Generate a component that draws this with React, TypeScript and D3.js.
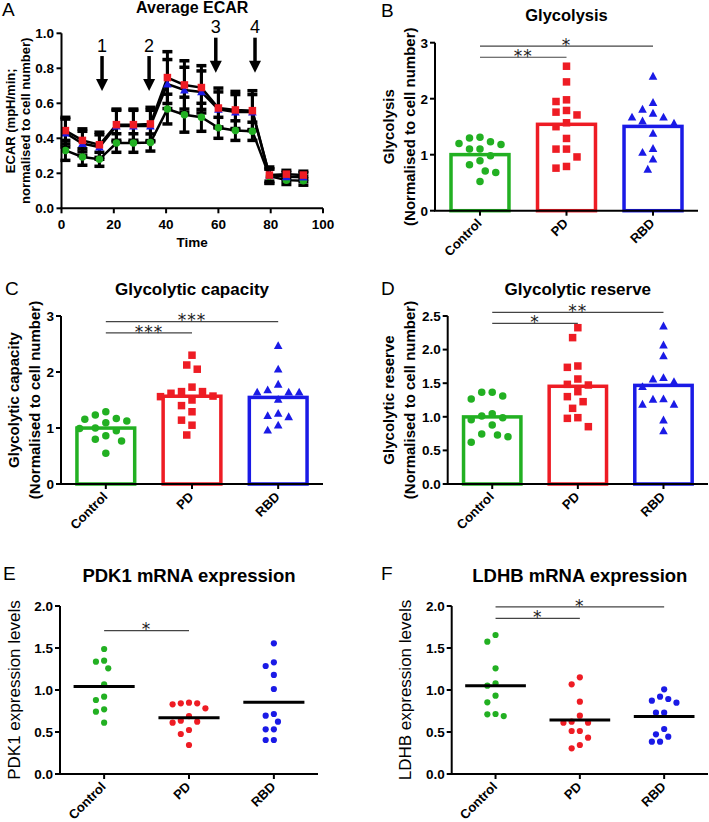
import React from 'react';
import * as d3 from 'd3';

const FONT = "'Liberation Sans', Arial, Helvetica, sans-serif";
const STAR_FONT = "'DejaVu Sans', sans-serif";
const GREEN = '#22b022';
const RED = '#ee1c24';
const BLUE = '#1a1ae6';

// ---------- Panel A data ----------
const timePoints = [1.5, 8, 14.5, 21, 27.5, 34, 40.5, 47, 53.5, 60, 66.5, 73, 79.5, 86, 92.5];
const pdMean = [0.444, 0.388, 0.363, 0.478, 0.478, 0.482, 0.747, 0.705, 0.69, 0.573, 0.562, 0.558, 0.19, 0.195, 0.19];
const pdSd = [0.076, 0.066, 0.072, 0.089, 0.089, 0.095, 0.148, 0.138, 0.125, 0.114, 0.106, 0.114, 0.046, 0.022, 0.022];
const rbdMean = [0.43, 0.37, 0.35, 0.47, 0.47, 0.47, 0.71, 0.676, 0.665, 0.565, 0.55, 0.55, 0.19, 0.18, 0.178];
const rbdSd = [0.08, 0.07, 0.07, 0.09, 0.09, 0.09, 0.14, 0.13, 0.12, 0.1, 0.1, 0.1, 0.035, 0.025, 0.025];
const ctrlMean = [0.331, 0.293, 0.28, 0.373, 0.373, 0.376, 0.567, 0.535, 0.52, 0.46, 0.444, 0.44, 0.183, 0.161, 0.157];
const ctrlSd = [0.057, 0.047, 0.04, 0.053, 0.053, 0.049, 0.085, 0.1, 0.08, 0.06, 0.056, 0.052, 0.041, 0.025, 0.025];
const injectionTimes = [15.5, 33.5, 59, 74];
const injectionTips = [0.67, 0.67, 0.775, 0.775];
const injectionLabels = ['1', '2', '3', '4'];
const timeTicks = [0, 20, 40, 60, 80, 100];
const ecarTicks = [0, 0.2, 0.4, 0.6, 0.8, 1.0];

// ---------- Group panels ----------
const groups = ['Control', 'PD', 'RBD'];

const glycolysisCtrl = [1.2, 1.3, 1.31, 1.23, 1.18, 1.1, 1.1, 0.98, 0.89, 0.82, 0.68, 0.71, 0.52];
const glycolysisPD = [2.58, 2.3, 1.98, 1.95, 1.79, 1.76, 1.71, 1.57, 1.5, 1.29, 1.1, 1.1, 0.96, 0.76, 0.79];
const glycolysisRBD = [2.4, 1.93, 1.81, 1.67, 1.67, 1.74, 1.56, 1.38, 1.11, 1.04, 0.92, 0.74, 1.6];

const capacityCtrl = [1.155, 1.23, 1.095, 1.17, 1.29, 1.125, 0.95, 0.99, 1.0, 0.86, 0.8, 0.77, 0.55];
const capacityPD = [2.3, 2.125, 2.05, 1.73, 1.56, 1.62, 1.65, 1.65, 1.5, 1.4, 1.29, 1.14, 1.05, 0.875, 1.57];
const capacityRBD = [2.47, 2.05, 1.78, 1.68, 1.64, 1.64, 1.64, 1.51, 1.22, 1.2, 1.26, 1.05, 0.96];

const reserveCtrl = [1.364, 1.31, 1.265, 1.364, 1.012, 1.047, 0.955, 0.987, 0.878, 0.729, 0.704, 0.744, 0.62];
const reservePD = [2.326, 2.178, 1.736, 1.756, 1.5625, 1.483, 1.473, 1.374, 1.3, 1.225, 1.126, 0.987, 0.977, 0.853];
const reserveRBD = [2.351, 2.068, 1.905, 1.582, 1.523, 1.5625, 1.448, 1.26, 1.185, 1.185, 1.265, 0.952, 0.789];

const pdk1Ctrl = [1.488, 1.349, 1.337, 1.258, 1.067, 0.921, 0.881, 0.77, 0.742, 0.611];
const pdk1PD = [0.841, 0.829, 0.782, 0.841, 0.849, 0.69, 0.635, 0.611, 0.623, 0.524, 0.476, 0.345];
const pdk1RBD = [1.556, 1.329, 1.286, 1.179, 1.012, 0.714, 0.694, 0.623, 0.532, 0.532, 0.405, 0.405];

const ldhbCtrl = [1.655, 1.575, 1.258, 1.079, 1.052, 0.933, 0.853, 0.714, 0.69, 0.71];
const ldhbPD = [1.151, 1.067, 0.861, 0.694, 0.623, 0.611, 0.611, 0.512, 0.512, 0.433, 0.345, 0.306];
const ldhbRBD = [1.008, 0.921, 0.873, 0.849, 0.893, 0.73, 0.73, 0.536, 0.472, 0.444, 0.385, 0.385];

const ticks0to3 = [0, 1, 2, 3];
const ticks0to25 = [0, 0.5, 1.0, 1.5, 2.0, 2.5];
const ticks0to2 = [0, 0.5, 1.0, 1.5, 2.0];

// brackets: [toGroupIndex, yValue, label]
const glycolysisBrackets: [number, number, string][] = [[1, 2.74, '**'], [2, 2.94, '*']];
const capacityBrackets: [number, number, string][] = [[1, 2.7, '***'], [2, 2.9, '***']];
const reserveBrackets: [number, number, string][] = [[1, 2.39, '*'], [2, 2.555, '**']];
const pdk1Brackets: [number, number, string][] = [[1, 1.706, '*']];
const ldhbBrackets: [number, number, string][] = [[1, 1.853, '*'], [2, 1.99, '*']];

const COLORS = [GREEN, RED, BLUE];
const SHAPES = ['circle', 'square', 'triangle'];

function Marker({ shape, x, y, s, color }: { shape: string; x: number; y: number; s: number; color: string }) {
  if (shape === 'square') return <rect x={x - s / 2} y={y - s / 2} width={s} height={s} fill={color} />;
  if (shape === 'triangle') {
    const h = s * 1.0;
    const w = s * 1.15;
    return <path d={`M${x},${y - h * 0.6}L${x + w / 2},${y + h * 0.45}L${x - w / 2},${y + h * 0.45}Z`} fill={color} />;
  }
  return <circle cx={x} cy={y} r={s / 2} fill={color} />;
}

function swarm(vals: number[], y: (v: number) => number, d: number): number[] {
  const order = vals.map((_, i) => i).sort((a, b) => vals[b] - vals[a]);
  const placed: { x: number; y: number }[] = [];
  const off = new Array(vals.length).fill(0);
  const step = d / 2;
  for (const i of order) {
    const yy = y(vals[i]);
    for (let k = 0; k < 60; k++) {
      const cand = k === 0 ? 0 : (k % 2 ? -1 : 1) * Math.ceil(k / 2) * step;
      if (placed.every((p) => Math.hypot(p.x - cand, p.y - yy) >= d)) {
        off[i] = cand;
        placed.push({ x: cand, y: yy });
        break;
      }
    }
  }
  return off;
}

function PanelA() {
  const x = d3.scaleLinear().domain([0, 100]).range([61.5, 323]);
  const y = d3.scaleLinear().domain([0, 1]).range([208.3, 33.3]);
  const series = [
    { mean: ctrlMean, sd: ctrlSd, color: GREEN, shape: 'circle', s: 7.5 },
    { mean: rbdMean, sd: rbdSd, color: BLUE, shape: 'triangle', s: 7.5 },
    { mean: pdMean, sd: pdSd, color: RED, shape: 'square', s: 7.5 },
  ];
  const line = d3.line<number>().x((_, i) => x(timePoints[i])).y((d) => y(d));
  return (
    <g>
      <text x={2} y={16} fontSize={19} fontFamily={FONT}>A</text>
      <text x={(61.5 + 323) / 2} y={13} fontSize={16} fontWeight="bold" textAnchor="middle" fontFamily={FONT}>Average ECAR</text>
      {series.map((s, k) => (
        <path key={'l' + k} d={line(s.mean) || ''} fill="none" stroke="#000" strokeWidth={2.5} />
      ))}
      {series.map((s, k) =>
        s.mean.map((m, i) => {
          const cx = x(timePoints[i]);
          const y1 = y(m + s.sd[i]);
          const y2 = y(m - s.sd[i]);
          return (
            <g key={'e' + k + '-' + i} stroke="#000" strokeWidth={3}>
              <line x1={cx} x2={cx} y1={y1} y2={y2} />
              <line x1={cx - 5} x2={cx + 5} y1={y1} y2={y1} strokeWidth={3.5} />
              <line x1={cx - 5} x2={cx + 5} y1={y2} y2={y2} strokeWidth={3.5} />
            </g>
          );
        })
      )}
      {series.map((s, k) =>
        s.mean.map((m, i) => (
          <Marker key={'m' + k + '-' + i} shape={s.shape} x={x(timePoints[i])} y={y(m)} s={s.s} color={s.color} />
        ))
      )}
      {injectionTimes.map((t, i) => {
        const cx = x(t);
        const tip = y(injectionTips[i]);
        return (
          <g key={'arr' + i}>
            <line x1={cx} x2={cx} y1={tip - 35} y2={tip - 10} stroke="#000" strokeWidth={3.5} />
            <path d={`M${cx - 6},${tip - 12}L${cx + 6},${tip - 12}L${cx},${tip}Z`} fill="#000" />
            <text x={cx} y={tip - 39.5} fontSize={18} textAnchor="middle" fontFamily={FONT}>{injectionLabels[i]}</text>
          </g>
        );
      })}
      {/* axes */}
      <line x1={61.5} x2={61.5} y1={33.3} y2={208.3} stroke="#000" strokeWidth={2} />
      <line x1={60.5} x2={323} y1={208.3} y2={208.3} stroke="#000" strokeWidth={2} />
      {ecarTicks.map((t) => (
        <g key={'yt' + t}>
          <line x1={56.5} x2={61.5} y1={y(t)} y2={y(t)} stroke="#000" strokeWidth={2} />
          <text x={54} y={y(t)} dy="0.36em" fontSize={13.5} fontWeight="bold" textAnchor="end" fontFamily={FONT}>{d3.format('.1f')(t)}</text>
        </g>
      ))}
      {timeTicks.map((t) => (
        <g key={'xt' + t}>
          <line x1={x(t)} x2={x(t)} y1={208.3} y2={213.3} stroke="#000" strokeWidth={2} />
          <text x={x(t)} y={228.5} fontSize={13.5} fontWeight="bold" textAnchor="middle" fontFamily={FONT}>{t}</text>
        </g>
      ))}
      <text x={x(50)} y={246.5} fontSize={13.5} fontWeight="bold" textAnchor="middle" fontFamily={FONT}>Time</text>
      <g transform={`translate(10,120.8) rotate(-90)`}>
        <text x={0} y={0} dy="0.36em" fontSize={13} fontWeight="bold" textAnchor="middle" fontFamily={FONT}>ECAR (mpH/min;</text>
      </g>
      <g transform={`translate(25,120.8) rotate(-90)`}>
        <text x={0} y={0} dy="0.36em" fontSize={13} fontWeight="bold" textAnchor="middle" fontFamily={FONT}>normalised to cell number)</text>
      </g>
    </g>
  );
}

type GroupPanelProps = {
  letter: string;
  letterX: number;
  letterY: number;
  title: string;
  titleY: number;
  titleSize: number;
  ylab: string[];
  ylabX: number[];
  ylabSize: number;
  ylabBold: boolean;
  x0: number;
  x1: number;
  yTop: number;
  yBot: number;
  ticks: number[];
  fmt: (n: number) => string;
  data: number[][];
  brackets: [number, number, string][];
  kind: 'bar' | 'dot';
};

function GroupPanel(p: GroupPanelProps) {
  const max = p.ticks[p.ticks.length - 1];
  const y = d3.scaleLinear().domain([0, max]).range([p.yBot, p.yTop]);
  const x = d3.scalePoint<string>().domain(groups).range([p.x0, p.x1]).padding(0.52);
  const step = x.step();
  const isBar = p.kind === 'bar';
  const ms = isBar ? 7.5 : 6.2;
  const d = isBar ? 10.5 : 8.2;
  const cy = (p.yTop + p.yBot) / 2;
  return (
    <g>
      <text x={p.letterX} y={p.letterY} fontSize={19} fontFamily={FONT}>{p.letter}</text>
      <text x={(p.x0 + p.x1) / 2} y={p.titleY} fontSize={p.titleSize} fontWeight="bold" textAnchor="middle" fontFamily={FONT}>{p.title}</text>
      {p.ylab.map((t, i) => (
        <g key={'yl' + i} transform={`translate(${p.ylabX[i]},${cy}) rotate(-90)`}>
          <text x={0} y={0} dy="0.36em" fontSize={p.ylabSize} fontWeight={p.ylabBold ? 'bold' : 'normal'} textAnchor="middle" fontFamily={FONT}>{t}</text>
        </g>
      ))}
      {isBar &&
        p.data.map((vals, gi) => {
          const m = d3.mean(vals) || 0;
          const bw = step * 0.67;
          const cx = x(groups[gi]) || 0;
          return (
            <rect key={'bar' + gi} x={cx - bw / 2} y={y(m)} width={bw} height={p.yBot - y(m)} fill="#fff" stroke={COLORS[gi]} strokeWidth={3.5} />
          );
        })}
      {p.data.map((vals, gi) => {
        const cx = x(groups[gi]) || 0;
        const off = swarm(vals, y, d);
        return vals.map((v, i) => (
          <Marker key={'pt' + gi + '-' + i} shape={isBar ? SHAPES[gi] : 'circle'} x={cx + off[i]} y={y(v)} s={ms} color={COLORS[gi]} />
        ));
      })}
      {!isBar &&
        p.data.map((vals, gi) => {
          const m = d3.mean(vals) || 0;
          const cx = x(groups[gi]) || 0;
          const hw = step * 0.36;
          return <line key={'ml' + gi} x1={cx - hw} x2={cx + hw} y1={y(m)} y2={y(m)} stroke="#000" strokeWidth={3} />;
        })}
      {/* axes */}
      <line x1={p.x0} x2={p.x0} y1={p.yTop} y2={p.yBot} stroke="#000" strokeWidth={2} />
      <line x1={p.x0 - 1} x2={p.x1} y1={p.yBot} y2={p.yBot} stroke="#000" strokeWidth={2} />
      {p.ticks.map((t) => (
        <g key={'t' + t}>
          <line x1={p.x0 - 5} x2={p.x0} y1={y(t)} y2={y(t)} stroke="#000" strokeWidth={2} />
          <text x={p.x0 - 7} y={y(t)} dy="0.36em" fontSize={13.5} fontWeight="bold" textAnchor="end" fontFamily={FONT}>{p.fmt(t)}</text>
        </g>
      ))}
      {groups.map((g) => {
        const cx = x(g) || 0;
        return (
          <g key={'x' + g}>
            <line x1={cx} x2={cx} y1={p.yBot} y2={p.yBot + 5} stroke="#000" strokeWidth={2} />
            <text transform={`translate(${cx + 2.5},${p.yBot + 13.5}) rotate(-45)`} fontSize={13} fontWeight="bold" textAnchor="end" fontFamily={FONT}>{g}</text>
          </g>
        );
      })}
      {p.brackets.map(([to, v, lab], i) => {
        const xa = x(groups[0]) || 0;
        const xb = x(groups[to]) || 0;
        const yy = y(v);
        return (
          <g key={'br' + i}>
            <line x1={xa} x2={xb} y1={yy} y2={yy} stroke="#444" strokeWidth={1.2} />
            <text x={(xa + xb) / 2} y={yy + 4.8} fontSize={17} textAnchor="middle" fontFamily={STAR_FONT} fill="#222" letterSpacing={1}>{lab}</text>
          </g>
        );
      })}
    </g>
  );
}

export default function App() {
  const fInt = d3.format('d');
  const f1 = d3.format('.1f');
  return (
    <svg width={709} height={822} viewBox="0 0 709 822" style={{ position: 'absolute', left: 0, top: 0, background: '#fff' }}>
      <rect x={0} y={0} width={709} height={822} fill="#fff" />
      <PanelA />
      <GroupPanel letter="B" letterX={381} letterY={17} title="Glycolysis" titleY={20.5} titleSize={16.5}
        ylab={['Glycolysis', '(Normalised to cell number)']} ylabX={[389, 410]} ylabSize={15} ylabBold={true}
        x0={435} x1={698} yTop={42.7} yBot={210.7} ticks={ticks0to3} fmt={fInt}
        data={[glycolysisCtrl, glycolysisPD, glycolysisRBD]} brackets={glycolysisBrackets} kind="bar" />
      <GroupPanel letter="C" letterX={5} letterY={295} title="Glycolytic capacity" titleY={294.5} titleSize={17}
        ylab={['Glycolytic capacity', '(Normalised to cell number)']} ylabX={[14, 35]} ylabSize={15} ylabBold={true}
        x0={61} x1={323} yTop={316} yBot={484} ticks={ticks0to3} fmt={fInt}
        data={[capacityCtrl, capacityPD, capacityRBD]} brackets={capacityBrackets} kind="bar" />
      <GroupPanel letter="D" letterX={381} letterY={295} title="Glycolytic reserve" titleY={294.5} titleSize={17}
        ylab={['Glycolytic reserve', '(Normalised to cell number)']} ylabX={[389, 410]} ylabSize={15} ylabBold={true}
        x0={447.7} x1={708} yTop={316} yBot={484} ticks={ticks0to25} fmt={f1}
        data={[reserveCtrl, reservePD, reserveRBD]} brackets={reserveBrackets} kind="bar" />
      <GroupPanel letter="E" letterX={3} letterY={579.5} title="PDK1 mRNA expression" titleY={582} titleSize={18.5}
        ylab={['PDK1 expression levels']} ylabX={[13.5]} ylabSize={17} ylabBold={false}
        x0={60} x1={318} yTop={606} yBot={774} ticks={ticks0to2} fmt={f1}
        data={[pdk1Ctrl, pdk1PD, pdk1RBD]} brackets={pdk1Brackets} kind="dot" />
      <GroupPanel letter="F" letterX={381} letterY={579.5} title="LDHB mRNA expression" titleY={582} titleSize={18.5}
        ylab={['LDHB expression levels']} ylabX={[405]} ylabSize={17} ylabBold={false}
        x0={451.7} x1={708} yTop={606} yBot={774} ticks={ticks0to2} fmt={f1}
        data={[ldhbCtrl, ldhbPD, ldhbRBD]} brackets={ldhbBrackets} kind="dot" />
    </svg>
  );
}
